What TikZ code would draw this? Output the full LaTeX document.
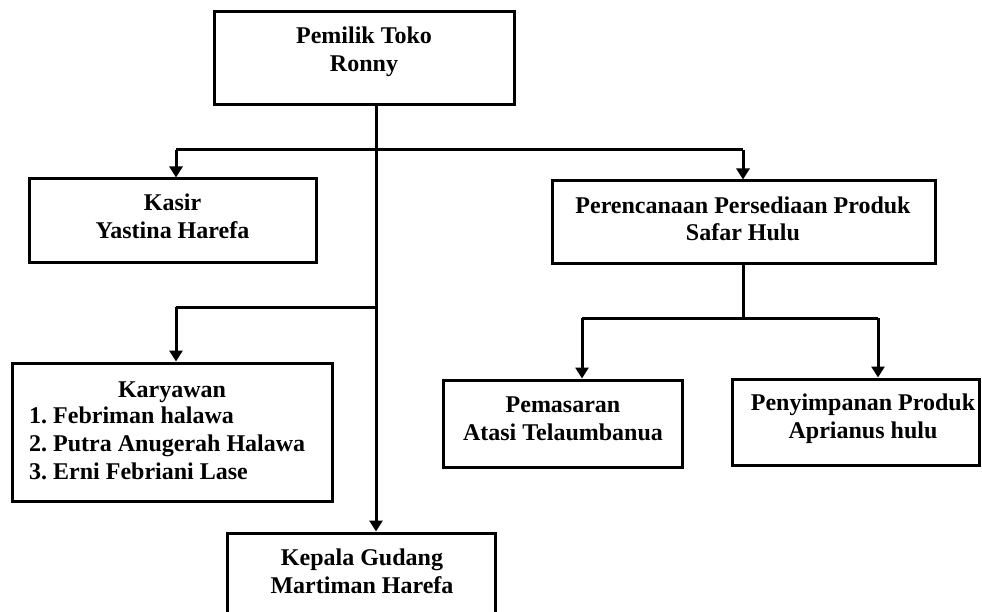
\documentclass[tikz,border=0pt]{standalone}
\usepackage{fontspec}
\setmainfont{Liberation Serif}
\usetikzlibrary{arrows.meta}
\begin{document}
\begin{tikzpicture}[x=1pt,y=-1pt,
  box/.style={draw, line width=3pt, inner sep=0pt},
  lbl/.style={align=center, anchor=base, inner sep=0pt, font=\fontsize{24}{28}\selectfont\bfseries},
  conn/.style={line width=3pt},
  arr/.style={line width=3pt, -{Triangle[width=13pt,length=11pt]}}]
\useasboundingbox (0,0) rectangle (982,612);
\clip (0,0) rectangle (982,612);
% boxes
\node[box, minimum width=300pt, minimum height=93pt] (pemilik) at (364,58.5) {};
\node[box, minimum width=287pt, minimum height=84pt] (kasir) at (172.5,221) {};
\node[box, minimum width=383pt, minimum height=83pt] (perenc) at (743.5,222.5) {};
\node[box, minimum width=320pt, minimum height=138pt] (karyawan) at (172,432) {};
\node[box, minimum width=239pt, minimum height=87pt] (pemasaran) at (562.5,423.5) {};
\node[box, minimum width=247pt, minimum height=86pt] (penyimpanan) at (855.5,422) {};
\node[box, minimum width=268pt, minimum height=107pt] (kepala) at (361,586.5) {};
% texts (anchor base = baseline of the last line)
\node[lbl] (tpemilik) at (364,72) {Pemilik Toko\\Ronny};
\node[lbl] (tkasir) at (172.5,239) {Kasir\\Yastina Harefa};
\node[lbl] (tperenc) at (743,241) {Perencanaan Persediaan Produk\\Safar Hulu};
\node[lbl] (tkaryawan) at (172,397) {Karyawan};
\node[lbl, anchor=base west, align=left] (tlist) at (29,479) {\makebox[24pt][l]{1.}Febriman halawa\\\makebox[24pt][l]{2.}Putra Anugerah Halawa\\\makebox[24pt][l]{3.}Erni Febriani Lase};
\node[lbl] (tpemasaran) at (563,440) {Pemasaran\\Atasi Telaumbanua};
\node[lbl] (tpenyimpanan) at (863,438) {Penyimpanan Produk\\Aprianus hulu};
\node[lbl] (tkepala) at (362,593) {Kepala Gudang\\Martiman Harefa};
% junctions
\coordinate (j1) at (376,150);
\coordinate (j2) at (376,307);
\coordinate (ka) at (176,150);
\coordinate (kr) at (176,307);
\coordinate (pr) at (743,150);
\coordinate (j3) at (743,318);
\coordinate (pm) at (582,318);
\coordinate (ps) at (878,318);
% connectors
\draw[arr] (pemilik.south -| j1) -- (kepala.north -| j1);
\draw[conn] (ka) -- (pr);
\draw[arr] (ka) -- (kasir.north -| ka);
\draw[arr] (pr) -- (perenc.north -| pr);
\draw[conn] (j2) -- (kr);
\draw[arr] (kr) -- (karyawan.north -| kr);
\draw[conn] (perenc.south -| j3) -- (j3);
\draw[conn] (pm) -- (ps);
\draw[arr] (pm) -- (pemasaran.north -| pm);
\draw[arr] (ps) -- (penyimpanan.north -| ps);
\end{tikzpicture}
\end{document}
